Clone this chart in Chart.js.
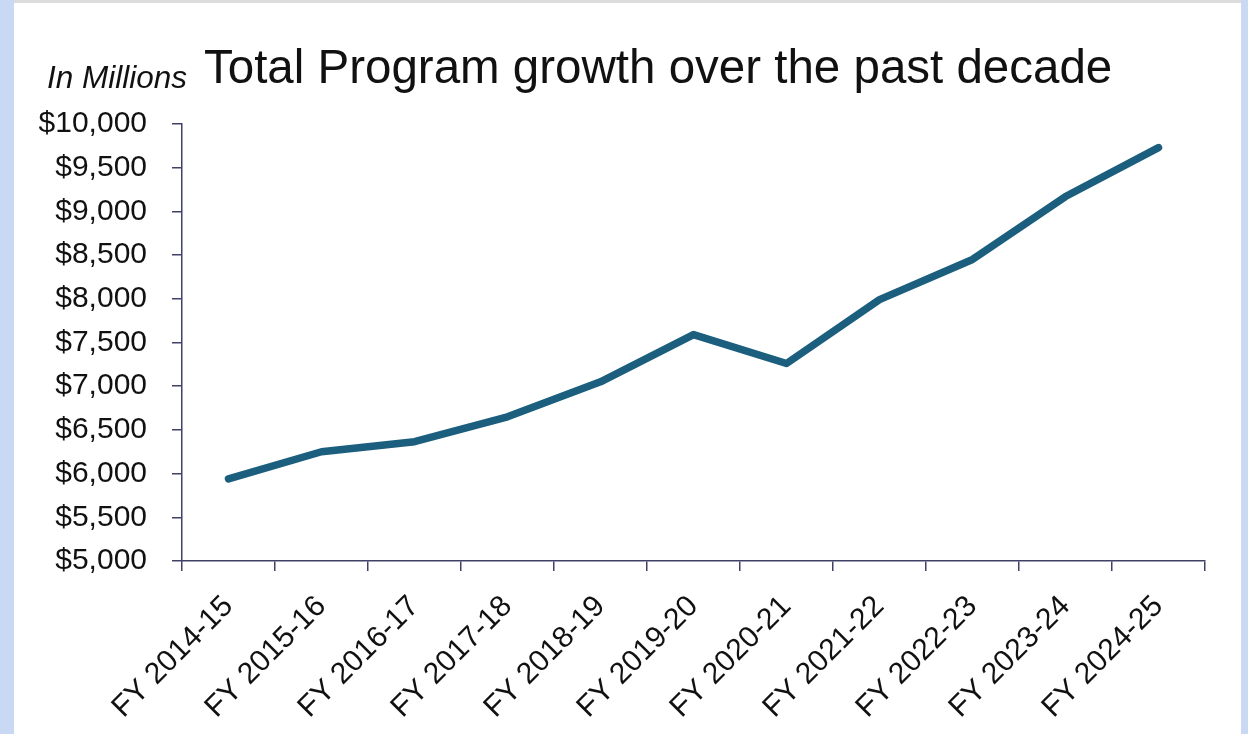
<!DOCTYPE html>
<html>
<head>
<meta charset="utf-8">
<title>Total Program growth over the past decade</title>
<script src="https://cdn.jsdelivr.net/npm/chart.js@4/dist/chart.umd.min.js"></script>
<style>
  html, body { margin: 0; padding: 0; }
  body { width: 1248px; height: 734px; overflow: hidden; background: #ffffff; position: relative; }
  .edge-left { position: absolute; left: 0; top: 0; width: 14px; height: 734px; background: #cad9f3; }
  .edge-right { position: absolute; right: 0; top: 0; width: 7px; height: 734px; background: #cad9f3; }
  .edge-top { position: absolute; left: 14px; right: 7px; top: 0; height: 3px; background: #dcdcdc; }
  .wrap { position: absolute; left: 0; top: 0; width: 1248px; height: 734px; }
</style>
</head>
<body>
<div class="edge-left"></div>
<div class="edge-right"></div>
<div class="edge-top"></div>
<div class="wrap"><canvas id="chart" width="1248" height="734"></canvas></div>
<script>
// Fiscal years on the horizontal axis
const fiscalYears = [
  'FY 2014-15', 'FY 2015-16', 'FY 2016-17', 'FY 2017-18', 'FY 2018-19',
  'FY 2019-20', 'FY 2020-21', 'FY 2021-22', 'FY 2022-23', 'FY 2023-24', 'FY 2024-25'
];

// Total program, in millions of dollars
const totalProgram = [5940, 6250, 6365, 6650, 7050, 7590, 7260, 7990, 8450, 9170, 9730];

// Vertical axis range and tick step (millions)
const yMin = 5000;
const yMax = 10000;
const yStep = 500;

const chartTitle = 'Total Program growth over the past decade';
const unitNote = 'In Millions';

const FONT = '"Liberation Sans", Arial, Helvetica, sans-serif';
const AXIS_COLOR = '#3f4266';
const TEXT_COLOR = '#111111';

// Title and unit note drawn above the plot
const headingPlugin = {
  id: 'heading',
  afterDraw(chart) {
    const ctx = chart.ctx;
    ctx.save();
    ctx.fillStyle = TEXT_COLOR;
    ctx.textBaseline = 'alphabetic';
    ctx.font = '47.5px ' + FONT;
    ctx.textAlign = 'left';
    ctx.fillText(chartTitle, 204, 83);
    ctx.font = 'italic 31.5px ' + FONT;
    ctx.textAlign = 'right';
    ctx.fillText(unitNote, 187, 88);
    ctx.restore();
  }
};

new Chart(document.getElementById('chart'), {
  type: 'line',
  data: {
    labels: fiscalYears,
    datasets: [{
      label: 'Total Program',
      data: totalProgram,
      borderColor: '#1b5e7e',
      backgroundColor: '#1b5e7e',
      borderWidth: 7.5,
      borderCapStyle: 'round',
      borderJoinStyle: 'round',
      pointRadius: 0,
      pointHoverRadius: 0,
      tension: 0,
      fill: false
    }]
  },
  options: {
    responsive: false,
    animation: false,
    devicePixelRatio: 1,
    layout: { padding: { top: 124, right: 43, bottom: 0, left: 0 } },
    plugins: {
      legend: { display: false },
      tooltip: { enabled: false },
      title: { display: false }
    },
    scales: {
      x: {
        type: 'category',
        offset: true,
        afterFit(scale) { scale.height = 173; },
        grid: {
          offset: true,
          drawOnChartArea: false,
          drawTicks: true,
          tickLength: 10,
          color: AXIS_COLOR,
          lineWidth: 1.5
        },
        border: { display: true, color: AXIS_COLOR, width: 1.5 },
        ticks: {
          autoSkip: false,
          minRotation: 45,
          maxRotation: 45,
          padding: 18,
          color: TEXT_COLOR,
          font: { family: FONT, size: 30 }
        }
      },
      y: {
        min: yMin,
        max: yMax,
        afterFit(scale) { scale.width = 182; },
        grid: {
          drawOnChartArea: false,
          drawTicks: true,
          tickLength: 10,
          color: AXIS_COLOR,
          lineWidth: 1.5
        },
        border: { display: true, color: AXIS_COLOR, width: 1.5 },
        ticks: {
          stepSize: yStep,
          padding: 25,
          color: TEXT_COLOR,
          font: { family: FONT, size: 30 },
          callback: (v) => '$' + Number(v).toLocaleString('en-US')
        }
      }
    }
  },
  plugins: [headingPlugin]
});
</script>
</body>
</html>
